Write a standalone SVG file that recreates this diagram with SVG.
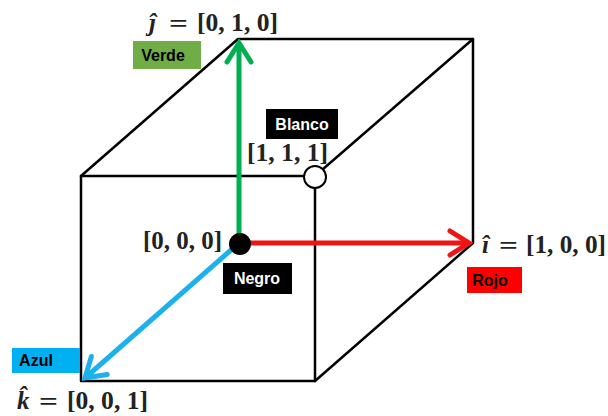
<svg xmlns="http://www.w3.org/2000/svg" width="608" height="416" viewBox="0 0 608 416">
<style>
.edge{stroke:#000;stroke-width:2.5;fill:none;stroke-linecap:round;stroke-linejoin:round}
.eq{font-family:"Liberation Serif","DejaVu Serif",serif;font-weight:bold;font-size:25px;fill:#222}
.op{font-size:26px}
.lbl{font-family:"Liberation Sans","Arial",sans-serif;font-weight:bold;font-size:16px;text-anchor:middle}
.ax{fill:none;stroke-width:5;stroke-linejoin:miter}
</style>
<defs>
<marker id="hg" markerUnits="userSpaceOnUse" markerWidth="40" markerHeight="40" refX="0" refY="0" orient="auto" overflow="visible"><path d="M-19,-12 L0,0 L-19,12" fill="none" stroke="#00B050" stroke-width="5" stroke-linecap="round"/></marker>
<marker id="hr" markerUnits="userSpaceOnUse" markerWidth="40" markerHeight="40" refX="0" refY="0" orient="auto" overflow="visible"><path d="M-19,-12 L0,0 L-19,12" fill="none" stroke="#F01414" stroke-width="5" stroke-linecap="round"/></marker>
<marker id="hb" markerUnits="userSpaceOnUse" markerWidth="40" markerHeight="40" refX="0" refY="0" orient="auto" overflow="visible"><path d="M-19,-12 L0,0 L-19,12" fill="none" stroke="#1CB0EC" stroke-width="5" stroke-linecap="round"/></marker>
</defs>
<g id="cube">
<rect class="edge" x="81" y="176" width="234" height="205"/>
<polyline class="edge" points="81,176 238,39 473,39 473,243 315,381"/>
<line class="edge" x1="473" y1="39" x2="315" y2="176"/>
</g>
<g id="connectors">
<line class="ax" stroke="#00B050" x1="239" y1="243" x2="239" y2="43" marker-end="url(#hg)"/>
<line class="ax" stroke="#F01414" x1="239" y1="243" x2="469" y2="243" marker-end="url(#hr)"/>
<line class="ax" stroke="#1CB0EC" x1="239" y1="243" x2="85" y2="378" marker-end="url(#hb)"/>
</g>
<g id="origin">
<circle cx="240" cy="244" r="11" fill="#000"/>
<text class="eq" x="143" y="249" textLength="79" lengthAdjust="spacingAndGlyphs">[0, 0, 0]</text>
</g>
<g id="negro">
<rect x="223" y="263" width="69" height="31" fill="#000"/>
<text class="lbl" x="257" y="284" fill="#fff">Negro</text>
</g>
<g id="white-corner">
<circle cx="315" cy="177" r="11" fill="#fff" stroke="#000" stroke-width="2"/>
<text class="eq" x="247" y="161" textLength="81" lengthAdjust="spacingAndGlyphs">[1, 1, 1]</text>
</g>
<g id="blanco">
<rect x="266" y="109" width="72" height="30" fill="#000"/>
<text class="lbl" x="302" y="130" fill="#fff">Blanco</text>
</g>
<g id="j-label">
<text class="eq" x="149" y="31"><tspan font-style="italic">ĵ</tspan><tspan class="op" x="169" y="32" textLength="19" lengthAdjust="spacingAndGlyphs">=</tspan><tspan x="197" y="31" textLength="81" lengthAdjust="spacingAndGlyphs">[0, 1, 0]</tspan></text>
</g>
<g id="verde">
<rect x="133" y="41" width="68" height="28" fill="#70AD47"/>
<text class="lbl" x="163" y="61" fill="#000">Verde</text>
</g>
<g id="i-label">
<text class="eq" x="482" y="253"><tspan font-style="italic">î</tspan><tspan class="op" x="499" y="254" textLength="19" lengthAdjust="spacingAndGlyphs">=</tspan><tspan x="526" y="253" textLength="80" lengthAdjust="spacingAndGlyphs">[1, 0, 0]</tspan></text>
</g>
<g id="rojo">
<rect x="467" y="267" width="55" height="26" fill="#FF0000"/>
<text class="lbl" x="490" y="286" fill="#000">Rojo</text>
</g>
<g id="k-label">
<text class="eq" x="17" y="409"><tspan font-style="italic">k̂</tspan><tspan class="op" x="39" y="410" textLength="19" lengthAdjust="spacingAndGlyphs">=</tspan><tspan x="67" y="409" textLength="81" lengthAdjust="spacingAndGlyphs">[0, 0, 1]</tspan></text>
</g>
<g id="azul">
<rect x="12" y="348" width="68" height="25" fill="#00B0F0"/>
<text class="lbl" x="36" y="366" fill="#000">Azul</text>
</g>
</svg>
